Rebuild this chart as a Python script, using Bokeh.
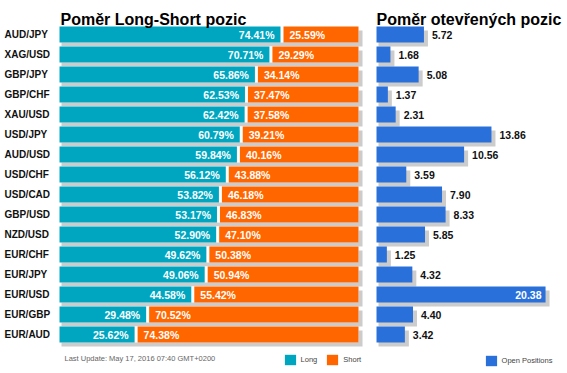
from bokeh.plotting import figure
from bokeh.models import ColumnDataSource, Range1d, Label, Legend, LegendItem
from bokeh.transform import dodge
from bokeh.core.properties import value
from bokeh.embed import file_html
from bokeh.resources import INLINE

# ---------------- data ----------------
pairs = ["AUD/JPY", "XAG/USD", "GBP/JPY", "GBP/CHF", "XAU/USD", "USD/JPY", "AUD/USD", "USD/CHF",
         "USD/CAD", "GBP/USD", "NZD/USD", "EUR/CHF", "EUR/JPY", "EUR/USD", "EUR/GBP", "EUR/AUD"]
long_pct = [74.41, 70.71, 65.86, 62.53, 62.42, 60.79, 59.84, 56.12,
            53.82, 53.17, 52.90, 49.62, 49.06, 44.58, 29.48, 25.62]
short_pct = [25.59, 29.29, 34.14, 37.47, 37.58, 39.21, 40.16, 43.88,
             46.18, 46.83, 47.10, 50.38, 50.94, 55.42, 70.52, 74.38]
open_pos = [5.72, 1.68, 5.08, 1.37, 2.31, 13.86, 10.56, 3.59,
            7.90, 8.33, 5.85, 1.25, 4.32, 20.38, 4.40, 3.42]

title_left = "Poměr Long-Short pozic"
title_right = "Poměr otevřených pozic"
footer = "Last Update: May 17, 2016 07:40 GMT+0200"

# ---------------- style ----------------
TEAL = "#00a6c0"
ORANGE = "#ff6600"
BLUE = "#2a70da"
SHADOW = "#cccccc"
FONT = "Liberation Sans"

W, H = 567, 373
PX_L = 2.99      # pixels per percent (left panel)
PX_R = 8.295     # pixels per open-position unit (right panel)
PX_Y = 20.0      # pixels per row
L_ZERO = 59      # pixel of 0% from left
R_ZERO = 376     # pixel of 0 open positions from left
TOP_ROW_PX = 34  # pixel of first row centre from top
GAP = 1.5 / PX_L
BAR_H = 0.8
SH_DY = -0.2
SH_L0, SH_L1 = 2 / PX_L, 4 / PX_L
SH_R0, SH_R1 = 2 / PX_R, 4 / PX_R

n = len(pairs)
l_start = -L_ZERO / PX_L
r_start = -R_ZERO / PX_R
y_top = (n - 1) + TOP_ROW_PX / PX_Y
y_bottom = y_top - H / PX_Y

p = figure(width=W, height=H, output_backend="svg", toolbar_location=None,
           x_range=Range1d(l_start, l_start + W / PX_L),
           y_range=Range1d(y_bottom, y_top),
           min_border=0, min_border_left=0, min_border_right=0,
           min_border_top=0, min_border_bottom=0,
           x_axis_location=None, y_axis_location=None, outline_line_color=None)
p.extra_x_ranges = {"open": Range1d(r_start, r_start + W / PX_R)}
p.grid.visible = False

rows = [n - 1 - i for i in range(n)]

src = ColumnDataSource(dict(
    pair=pairs,
    row=rows,
    long=long_pct,
    short=short_pct,
    long_end=[v - GAP for v in long_pct],
    short_start=[v + GAP for v in long_pct],
    full=[l + s for l, s in zip(long_pct, short_pct)],
    zero=[0] * n,
    long_txt=["%.2f%%" % v for v in long_pct],
    short_txt=["%.2f%%" % v for v in short_pct],
))
src.data["sh_left"] = [SH_L0] * n
src.data["sh_right"] = [f + SH_L1 for f in src.data["full"]]

ydodge = dodge("row", SH_DY)

# left panel: shadow, white base, long, short
p.hbar(y=ydodge, left="sh_left", right="sh_right", height=BAR_H, source=src,
       fill_color=SHADOW, line_color=None)
p.hbar(y="row", left="zero", right="full", height=BAR_H, source=src,
       fill_color="white", line_color=None)
r_long = p.hbar(y="row", left="zero", right="long_end", height=BAR_H, source=src,
                fill_color=TEAL, line_color=None)
r_short = p.hbar(y="row", left="short_start", right="full", height=BAR_H, source=src,
                 fill_color=ORANGE, line_color=None)

p.text(x="long_end", y="row", text="long_txt", source=src, x_offset=-6,
       text_align="right", text_baseline="middle", text_color="white",
       text_font=value(FONT), text_font_style="bold", text_font_size="10.5px")
p.text(x="short_start", y="row", text="short_txt", source=src, x_offset=6,
       text_align="left", text_baseline="middle", text_color="white",
       text_font=value(FONT), text_font_style="bold", text_font_size="10.5px")

# category labels
p.text(x=l_start, y="row", text="pair", source=src, x_offset=4,
       text_align="left", text_baseline="middle", text_color="#111111",
       text_font=value(FONT), text_font_style="bold", text_font_size="10px")

# right panel
vmax = max(open_pos)
osrc = ColumnDataSource(dict(
    pair=pairs, row=rows, val=open_pos, zero=[0] * n,
    sh_left=[SH_R0] * n, sh_right=[v + SH_R1 for v in open_pos],
))
out_idx = [i for i, v in enumerate(open_pos) if v < vmax]
in_idx = [i for i, v in enumerate(open_pos) if v >= vmax]
out_src = ColumnDataSource(dict(row=[rows[i] for i in out_idx],
                                val=[open_pos[i] for i in out_idx],
                                txt=["%.2f" % open_pos[i] for i in out_idx]))
in_src = ColumnDataSource(dict(row=[rows[i] for i in in_idx],
                               val=[open_pos[i] for i in in_idx],
                               txt=["%.2f" % open_pos[i] for i in in_idx]))

p.hbar(y=ydodge, left="sh_left", right="sh_right", height=BAR_H, source=osrc,
       fill_color=SHADOW, line_color=None, x_range_name="open")
r_open = p.hbar(y="row", left="zero", right="val", height=BAR_H, source=osrc,
                fill_color=BLUE, line_color=None, x_range_name="open")
p.text(x="val", y="row", text="txt", source=out_src, x_offset=8, x_range_name="open",
       text_align="left", text_baseline="middle", text_color="#111111",
       text_font=value(FONT), text_font_style="bold", text_font_size="10.5px")
p.text(x="val", y="row", text="txt", source=in_src, x_offset=-4, x_range_name="open",
       text_align="right", text_baseline="middle", text_color="white",
       text_font=value(FONT), text_font_style="bold", text_font_size="10.5px")

# titles and footer (screen units: from bottom-left)
p.add_layout(Label(x=60, y=H - 19, x_units="screen", y_units="screen", text=title_left,
                   text_font=FONT, text_font_style="bold", text_font_size="16px",
                   text_color="#000000", text_baseline="alphabetic"))
p.add_layout(Label(x=376, y=H - 19, x_units="screen", y_units="screen", text=title_right,
                   text_font=FONT, text_font_style="bold", text_font_size="16px",
                   text_color="#000000", text_baseline="alphabetic"))
p.add_layout(Label(x=64, y=H - 357.7, x_units="screen", y_units="screen", text=footer,
                   text_font=FONT, text_font_size="7.5px", text_color="#666666",
                   text_baseline="middle"))

common = dict(orientation="horizontal", glyph_width=14, glyph_height=13, label_height=13,
              label_width=0, label_standoff=4, spacing=8, padding=0, margin=0,
              border_line_color=None, background_fill_alpha=0,
              label_text_font=FONT, label_text_font_size="7.5px", label_text_color="#444444")
leg1 = Legend(items=[LegendItem(label="Long", renderers=[r_long]),
                     LegendItem(label="Short", renderers=[r_short])],
              location=(282.6, H - 365.7), **common)
leg2 = Legend(items=[LegendItem(label="Open Positions", renderers=[r_open])],
              location=(483.6, H - 366.7), **common)
p.add_layout(leg1)
p.add_layout(leg2)

open("out.html", "w").write(file_html(p, INLINE))
